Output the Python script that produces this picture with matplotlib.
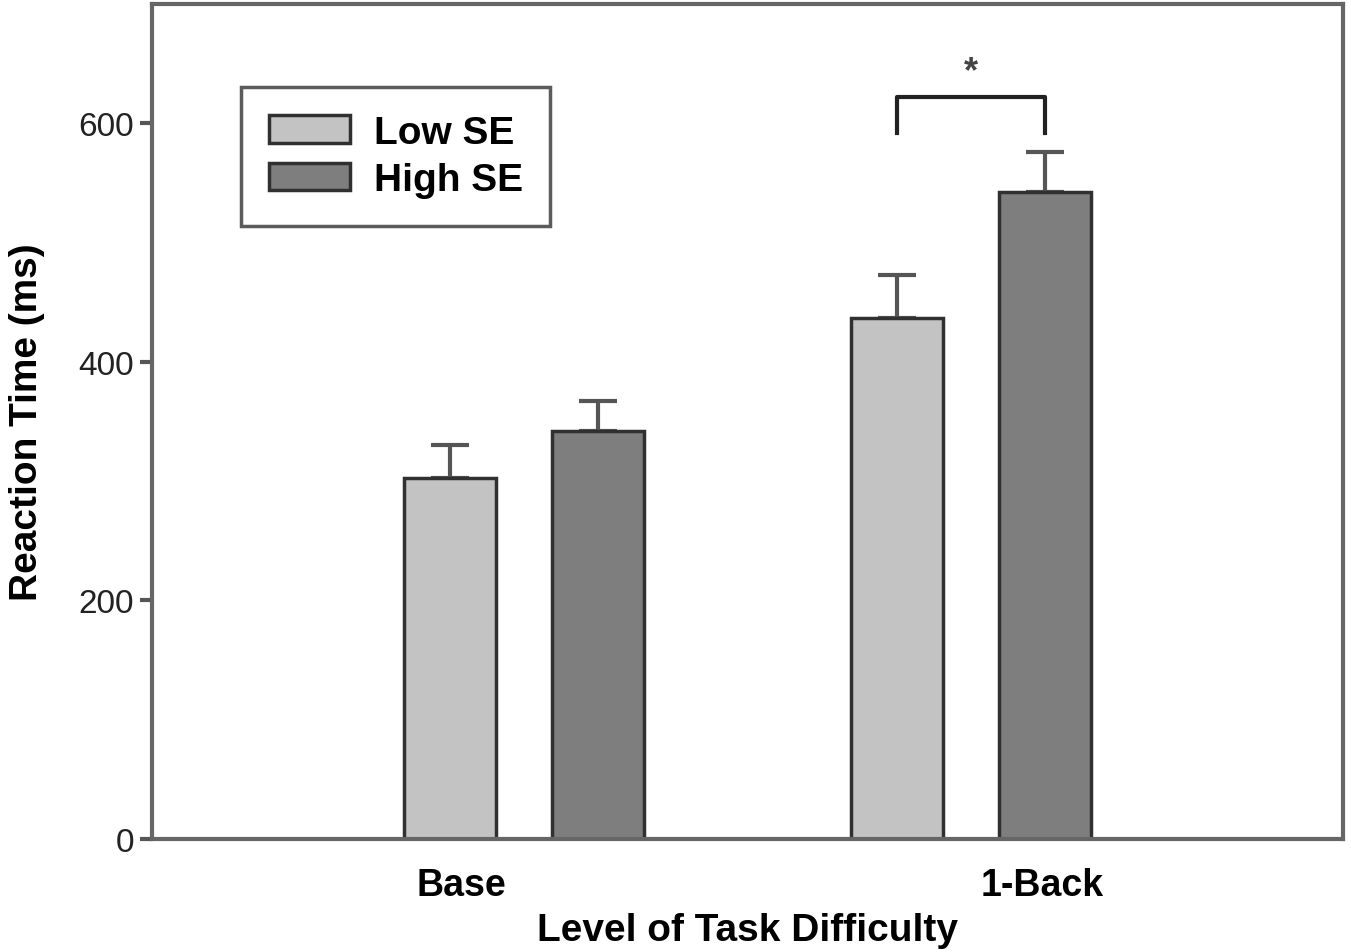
import matplotlib.pyplot as plt
import numpy as np

plt.rcParams['font.family'] = ['Liberation Sans', 'DejaVu Sans']

# data
groups = ["Base", "1-Back"]
low_se = [303, 437]
low_err = [27, 36]
high_se = [342, 542]
high_err = [25, 34]

fig = plt.figure(figsize=(13.51, 9.53), dpi=100)
ax = fig.add_axes([0.1125, 0.1186, 0.8815, 0.8762])

x = np.arange(len(groups))
w = 0.205
off = 0.166

ax.bar(x - off, low_se, w, color="#c3c3c3", edgecolor="#303030", linewidth=2.5,
       label="Low SE", zorder=2)
ax.bar(x + off, high_se, w, color="#7e7e7e", edgecolor="#303030", linewidth=2.5,
       label="High SE", zorder=2)
ax.errorbar(x - off, low_se, yerr=[[0, 0], low_err], fmt="none", ecolor="#555555",
            elinewidth=3, capsize=14, capthick=3, zorder=1)
ax.errorbar(x + off, high_se, yerr=[[0, 0], high_err], fmt="none", ecolor="#555555",
            elinewidth=3, capsize=14, capthick=3, zorder=1)

# significance bracket
ax.plot([1 - off, 1 - off, 1 + off, 1 + off], [592, 622, 622, 592], color="#222222",
        linewidth=3)
ax.text(1, 643, "*", ha="center", va="center", fontsize=26, fontweight="bold",
        color="#444444")

ax.set_xlim(-0.832, 1.832)
ax.set_ylim(0, 700)
ax.set_yticks([0, 200, 400, 600])
ax.set_xticks([x[0] - 0.14, x[1] + 0.16])
ax.set_xticklabels(groups, fontsize=27, fontweight="bold")
ax.tick_params(axis="x", length=0, pad=20)
ax.tick_params(axis="y", length=9, width=3, color="#555555", labelsize=24,
               labelcolor="#222222", pad=4)

for s in ax.spines.values():
    s.set_color("#666666")
    s.set_linewidth(3)

ax.set_xlabel("Level of Task Difficulty", fontsize=28, fontweight="bold")
ax.xaxis.set_label_coords(0.5, -0.088)
ax.set_ylabel("Reaction Time (ms)", fontsize=28, fontweight="bold")
ax.yaxis.set_label_coords(-0.09, 0.5)

leg = ax.legend(loc="upper left", bbox_to_anchor=(0.075, 0.9), fontsize=28,
                fancybox=False, handlelength=2.1, handleheight=0.7,
                handletextpad=0.6, borderpad=0.7, labelspacing=0.3, borderaxespad=0)
leg.get_frame().set_edgecolor("#333333")
leg.get_frame().set_linewidth(2.5)
for t in leg.get_texts():
    t.set_fontweight("bold")

fig.savefig("out.png", dpi=100)
